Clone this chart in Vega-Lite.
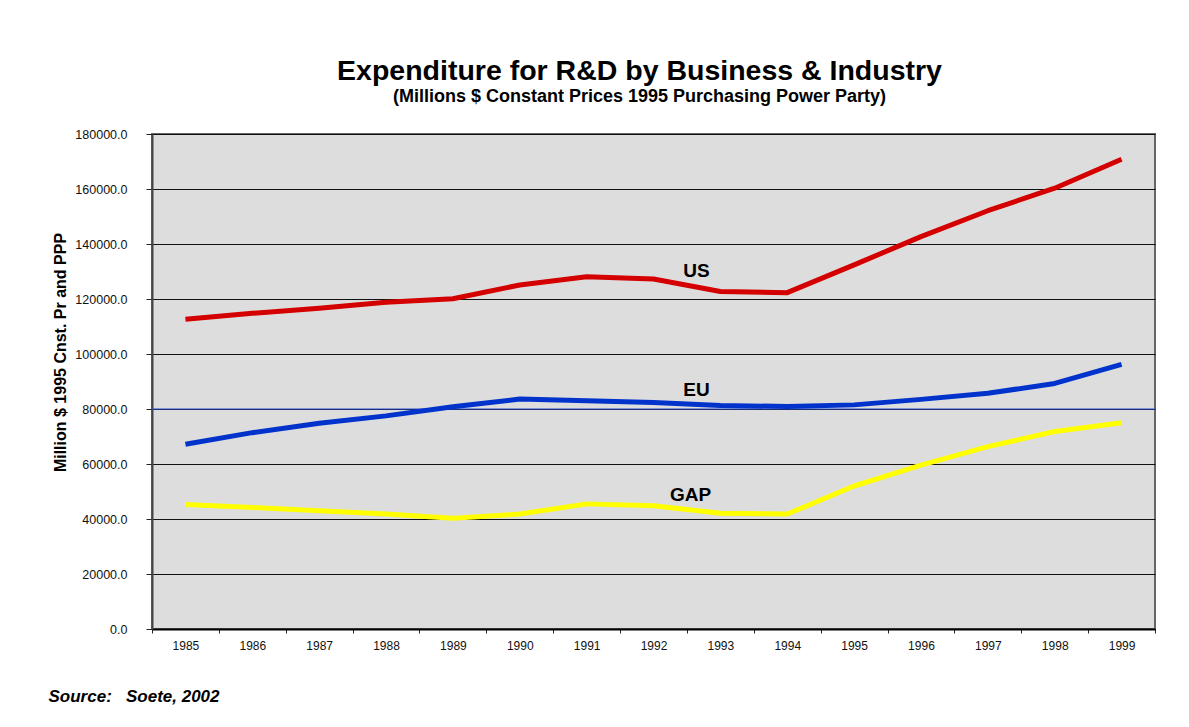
{
  "$schema": "https://vega.github.io/schema/vega-lite/v6.json",
  "autosize": "none",
  "padding": {"left": 152, "top": 134, "right": 34, "bottom": 98},
  "width": 1003,
  "height": 495,
  "background": "white",
  "title": {
    "text": "Expenditure for R&D by Business & Industry",
    "subtitle": "(Millions $ Constant Prices 1995 Purchasing Power Party)",
    "anchor": "middle",
    "dx": -14,
    "offset": 22,
    "font": "Liberation Sans",
    "fontSize": 28.5,
    "fontWeight": "bold",
    "color": "black",
    "subtitleFont": "Liberation Sans",
    "subtitleFontSize": 18,
    "subtitleFontWeight": "bold",
    "subtitleColor": "black",
    "subtitlePadding": 3
  },
  "datasets": {
    "series": [
      {"year": "1985", "series": "US", "value": 112600},
      {"year": "1986", "series": "US", "value": 114800},
      {"year": "1987", "series": "US", "value": 116600},
      {"year": "1988", "series": "US", "value": 118800},
      {"year": "1989", "series": "US", "value": 120100},
      {"year": "1990", "series": "US", "value": 125100},
      {"year": "1991", "series": "US", "value": 128100},
      {"year": "1992", "series": "US", "value": 127300},
      {"year": "1993", "series": "US", "value": 122700},
      {"year": "1994", "series": "US", "value": 122300},
      {"year": "1995", "series": "US", "value": 132400},
      {"year": "1996", "series": "US", "value": 142700},
      {"year": "1997", "series": "US", "value": 152100},
      {"year": "1998", "series": "US", "value": 160300},
      {"year": "1999", "series": "US", "value": 170800},
      {"year": "1985", "series": "EU", "value": 67200},
      {"year": "1986", "series": "EU", "value": 71400},
      {"year": "1987", "series": "EU", "value": 74800},
      {"year": "1988", "series": "EU", "value": 77500},
      {"year": "1989", "series": "EU", "value": 80800},
      {"year": "1990", "series": "EU", "value": 83600},
      {"year": "1991", "series": "EU", "value": 83000},
      {"year": "1992", "series": "EU", "value": 82400},
      {"year": "1993", "series": "EU", "value": 81300},
      {"year": "1994", "series": "EU", "value": 80900},
      {"year": "1995", "series": "EU", "value": 81500},
      {"year": "1996", "series": "EU", "value": 83500},
      {"year": "1997", "series": "EU", "value": 85700},
      {"year": "1998", "series": "EU", "value": 89300},
      {"year": "1999", "series": "EU", "value": 96200},
      {"year": "1985", "series": "GAP", "value": 45300},
      {"year": "1986", "series": "GAP", "value": 44200},
      {"year": "1987", "series": "GAP", "value": 43000},
      {"year": "1988", "series": "GAP", "value": 41800},
      {"year": "1989", "series": "GAP", "value": 40300},
      {"year": "1990", "series": "GAP", "value": 41800},
      {"year": "1991", "series": "GAP", "value": 45500},
      {"year": "1992", "series": "GAP", "value": 44800},
      {"year": "1993", "series": "GAP", "value": 42100},
      {"year": "1994", "series": "GAP", "value": 41800},
      {"year": "1995", "series": "GAP", "value": 52000},
      {"year": "1996", "series": "GAP", "value": 59600},
      {"year": "1997", "series": "GAP", "value": 66300},
      {"year": "1998", "series": "GAP", "value": 71800},
      {"year": "1999", "series": "GAP", "value": 75000}
    ],
    "labelsUE": [
      {"year": "1992", "series": "US", "value": 130200},
      {"year": "1992", "series": "EU", "value": 86900}
    ],
    "labelsGap": [
      {"year": "1992", "series": "GAP", "value": 48700}
    ],
    "ref": [{"value": 80000}]
  },
  "config": {
    "view": {"fill": "#dddddd", "stroke": "#666666", "strokeWidth": 2},
    "axis": {
      "labelFont": "Liberation Sans",
      "titleFont": "Liberation Sans",
      "labelColor": "#111111",
      "tickColor": "#222222",
      "domainColor": "#222222"
    }
  },
  "encoding": {
    "x": {
      "field": "year",
      "type": "ordinal",
      "scale": {"type": "band", "paddingInner": 0, "paddingOuter": 0},
      "axis": {
        "tickBand": "extent",
        "labelAngle": 0,
        "labelFontSize": 12,
        "labelPadding": 7,
        "tickSize": 4,
        "tickWidth": 1,
        "domainWidth": 2,
        "domainColor": "#000000",
        "grid": false,
        "title": "Source:\u00a0\u00a0\u00a0Soete, 2002",
        "titleFontSize": 17,
        "titleFontWeight": "bold",
        "titleFontStyle": "italic",
        "titleColor": "black",
        "titleAnchor": "start",
        "titleAlign": "left",
        "titleBaseline": "alphabetic",
        "titleX": -104,
        "titleY": 72
      }
    },
    "y": {
      "field": "value",
      "type": "quantitative",
      "scale": {"domain": [0, 180000], "nice": false},
      "axis": {
        "values": [0, 20000, 40000, 60000, 80000, 100000, 120000, 140000, 160000, 180000],
        "format": ".1f",
        "labelFontSize": 12.5,
        "labelPadding": 19,
        "tickSize": 6,
        "domainWidth": 2,
        "domainColor": "#444444",
        "grid": true,
        "gridColor": "#111111",
        "gridWidth": 1.2,
        "gridOpacity": 1,
        "title": "Million $ 1995 Cnst. Pr and PPP",
        "titleFontSize": 16,
        "titleFontWeight": "bold",
        "titleColor": "black",
        "titleAngle": -90,
        "titleBaseline": "middle",
        "titleAlign": "center",
        "titleX": -92,
        "titleY": 218
      }
    }
  },
  "layer": [
    {
      "data": {"name": "ref"},
      "mark": {"type": "rule", "color": "#2b4fd8", "strokeWidth": 1},
      "encoding": {"y": {"field": "value", "type": "quantitative"}, "x": null}
    },
    {
      "data": {"name": "series"},
      "mark": {"type": "line", "strokeWidth": 5, "strokeCap": "butt", "strokeJoin": "round"},
      "encoding": {
        "color": {
          "field": "series",
          "type": "nominal",
          "scale": {"domain": ["US", "EU", "GAP"], "range": ["#d40000", "#0033cc", "#ffff00"]},
          "legend": null
        }
      }
    },
    {
      "data": {"name": "labelsUE"},
      "mark": {"type": "text", "font": "Liberation Sans", "fontSize": 19, "fontWeight": "bold", "color": "black", "dx": 43, "baseline": "middle"},
      "encoding": {"text": {"field": "series"}}
    },
    {
      "data": {"name": "labelsGap"},
      "mark": {"type": "text", "font": "Liberation Sans", "fontSize": 19, "fontWeight": "bold", "color": "black", "dx": 37, "baseline": "middle"},
      "encoding": {"text": {"field": "series"}}
    }
  ]
}
